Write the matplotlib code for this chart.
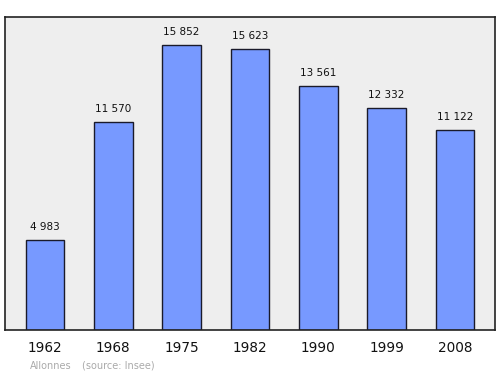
import matplotlib
matplotlib.use("Agg")
import matplotlib.pyplot as plt

years = ["1962", "1968", "1975", "1982", "1990", "1999", "2008"]
population = [4983, 11570, 15852, 15623, 13561, 12332, 11122]
value_labels = ["4 983", "11 570", "15 852", "15 623", "13 561", "12 332", "11 122"]

fig = plt.figure(figsize=(5, 3.74), dpi=100)
ax = fig.add_axes([0.01, 0.1176, 0.98, 0.8369])
ax.set_facecolor("#eeeeee")
x = list(range(len(years)))
ax.bar(x, population, width=0.57, color="#7799ff", edgecolor="#1a1a2a", linewidth=1.0, zorder=2)
for xi, v, lab in zip(x, population, value_labels):
    ax.annotate(lab, (xi, v), xytext=(0, 6), textcoords="offset points",
                ha="center", va="bottom", fontsize=7.5, color="#111111")
ax.set_xlim(-0.585, 6.585)
ax.set_ylim(0, 17400)
ax.set_xticks(x)
ax.set_xticklabels(years, fontsize=9.8, color="#111111")
ax.tick_params(axis="x", length=0, pad=8)
ax.set_yticks([])
for s in ax.spines.values():
    s.set_color("#222222")
    s.set_linewidth(1.2)
fig.text(0.06, 0.014, "Allonnes", fontsize=7, color="#aaaaaa", ha="left")
fig.text(0.164, 0.014, "(source: Insee)", fontsize=7, color="#aaaaaa", ha="left")
fig.savefig("out.png", dpi=100)
